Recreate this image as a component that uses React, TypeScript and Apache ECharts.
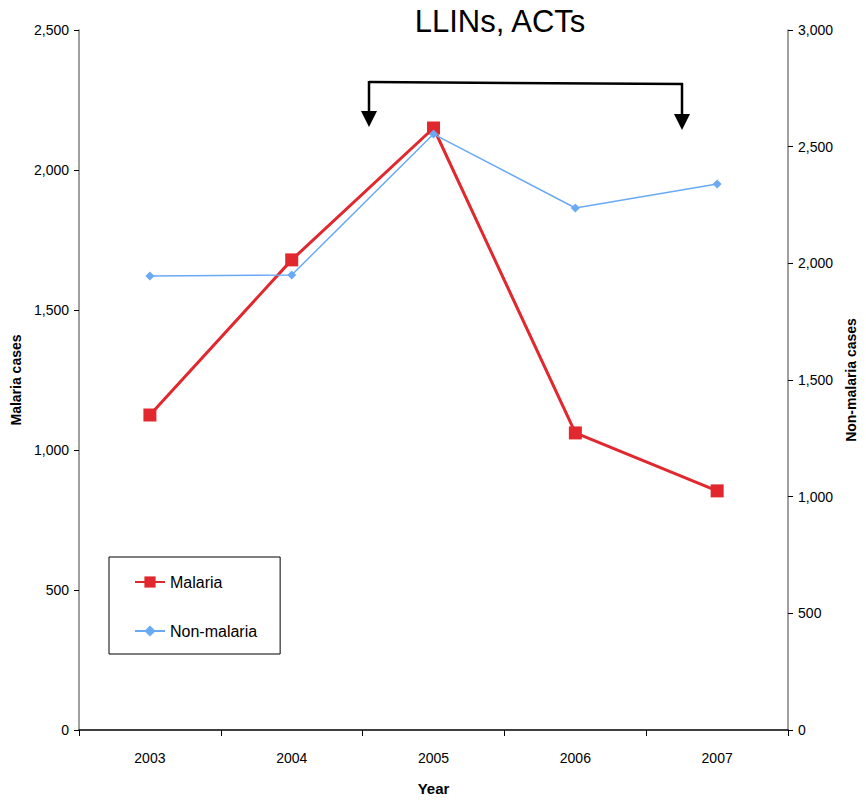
import React, { useEffect, useRef } from "react";
import * as echarts from "echarts";

const years = ["2003", "2004", "2005", "2006", "2007"];
const malaria = [1125, 1679, 2150, 1061, 854];
const nonMalaria = [1946, 1950, 2554, 2237, 2340];
const titleText = "LLINs, ACTs";

const NARROW = "'Liberation Sans Narrow', 'Arial Narrow', 'Liberation Sans', Arial, sans-serif";
const SANS = "'Liberation Sans', Arial, sans-serif";

const fmt = (v: number) => v.toLocaleString("en-US");

export default function App() {
  const ref = useRef<HTMLDivElement>(null);
  useEffect(() => {
    document.body.style.margin = "0";
    if (!ref.current) return;
    const chart = echarts.init(ref.current, undefined, { renderer: "svg" });
    chart.setOption({
      animation: false,
      backgroundColor: "#ffffff",
      title: {
        text: titleText,
        left: 495,
        top: 1,
        textAlign: "center",
        textStyle: { fontFamily: SANS, fontSize: 31, fontWeight: "normal", color: "#000" },
      },
      grid: { left: 79, right: 77, top: 30, bottom: 75 },
      legend: {
        orient: "vertical",
        left: 109,
        top: 557,
        padding: [17, 23, 15, 25],
        itemGap: 33,
        itemWidth: 30,
        itemHeight: 14,
        borderColor: "#000",
        borderWidth: 1,
        backgroundColor: "#fff",
        textStyle: { fontFamily: NARROW, fontSize: 16, color: "#000" },
        data: ["Malaria", "Non-malaria"],
      },
      xAxis: {
        type: "category",
        data: years,
        boundaryGap: true,
        name: "Year",
        nameLocation: "middle",
        nameGap: 51,
        nameTextStyle: { fontFamily: NARROW, fontSize: 15, fontWeight: "bold", color: "#000" },
        axisLine: { lineStyle: { color: "#000", width: 1.5 } },
        axisTick: { show: true, length: 6, lineStyle: { color: "#000" } },
        axisLabel: { fontFamily: NARROW, fontSize: 14, color: "#000", margin: 21 },
      },
      yAxis: [
        {
          type: "value",
          min: 0,
          max: 2500,
          interval: 500,
          position: "left",
          name: "Malaria cases",
          nameLocation: "middle",
          nameRotate: 90,
          nameGap: 49,
          nameTextStyle: { fontFamily: SANS, fontSize: 14, fontWeight: "bold", color: "#000" },
          axisLine: { show: true, lineStyle: { color: "#808080", width: 1.5 } },
          axisTick: { show: true, length: 5, lineStyle: { color: "#000" } },
          axisLabel: { fontFamily: NARROW, fontSize: 14, color: "#000", margin: 10, formatter: fmt },
          splitLine: { show: false },
        },
        {
          type: "value",
          min: 0,
          max: 3000,
          interval: 500,
          position: "right",
          name: "Non-malaria cases",
          nameLocation: "middle",
          nameRotate: 90,
          nameGap: 48,
          nameTextStyle: { fontFamily: SANS, fontSize: 14, fontWeight: "bold", color: "#000" },
          axisLine: { show: true, lineStyle: { color: "#808080", width: 1.5 } },
          axisTick: { show: true, length: 5, lineStyle: { color: "#000" } },
          axisLabel: { fontFamily: NARROW, fontSize: 14, color: "#000", margin: 10, formatter: fmt },
          splitLine: { show: false },
        },
      ],
      series: [
        {
          name: "Malaria",
          type: "line",
          yAxisIndex: 0,
          data: malaria,
          symbol: "rect",
          symbolSize: 13,
          lineStyle: { color: "#e0282e", width: 3 },
          itemStyle: { color: "#e0282e" },
          z: 3,
        },
        {
          name: "Non-malaria",
          type: "line",
          yAxisIndex: 1,
          data: nonMalaria,
          symbol: "diamond",
          symbolSize: 9,
          lineStyle: { color: "#6aaaf5", width: 1.5 },
          itemStyle: { color: "#6aaaf5" },
          z: 4,
        },
      ],
      graphic: [
        { type: "line", shape: { x1: 369, y1: 82, x2: 683, y2: 84 }, style: { stroke: "#000", lineWidth: 2.5 } },
        { type: "line", shape: { x1: 369, y1: 81, x2: 369, y2: 114 }, style: { stroke: "#000", lineWidth: 2.5 } },
        { type: "line", shape: { x1: 682, y1: 83, x2: 682, y2: 117 }, style: { stroke: "#000", lineWidth: 2.5 } },
        { type: "polygon", shape: { points: [[361, 111], [377, 111], [369, 127]] }, style: { fill: "#000" } },
        { type: "polygon", shape: { points: [[674, 114], [690, 114], [682, 130]] }, style: { fill: "#000" } },
      ],
    });
    return () => chart.dispose();
  }, []);
  return <div ref={ref} style={{ width: 866, height: 805 }} />;
}
